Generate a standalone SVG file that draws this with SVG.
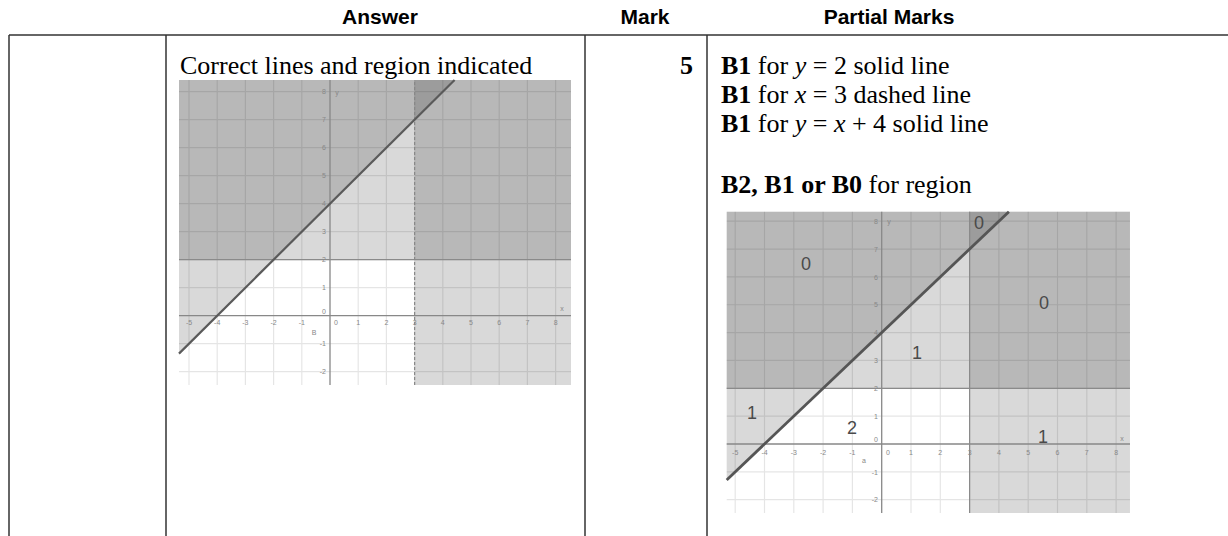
<svg xmlns="http://www.w3.org/2000/svg" width="1228" height="536" viewBox="0 0 1228 536">
<style>
.hdr{font-family:"Liberation Sans",Arial,sans-serif;font-weight:bold;font-size:21px;fill:#000;text-anchor:middle}
.tx{font-family:"Liberation Serif","Times New Roman",serif;font-size:26px;fill:#000}
.b{font-weight:bold}
.i{font-style:italic}
.rule{stroke:#333;stroke-width:1.5;fill:none}
.grid{stroke:#000;stroke-opacity:0.1;fill:none;vector-effect:non-scaling-stroke;stroke-width:1.2}
.shade{fill:#000;fill-opacity:0.15;stroke:none}
.axis{stroke:#888;stroke-width:1.3;fill:none;vector-effect:non-scaling-stroke}
.bnd{stroke:#8a8a8a;stroke-width:1.2;fill:none;vector-effect:non-scaling-stroke}
.dash{stroke:#888;stroke-width:1.2;stroke-dasharray:3 2;fill:none;vector-effect:non-scaling-stroke}
.ln{stroke:#5a5a5a;stroke-width:2.2;fill:none;vector-effect:non-scaling-stroke}
.ln2{stroke:#555;stroke-width:2.8;fill:none;vector-effect:non-scaling-stroke}
.tk{font-family:"Liberation Sans",Arial,sans-serif;font-size:7px;fill:#888;text-anchor:middle}
.tky{font-family:"Liberation Sans",Arial,sans-serif;font-size:7px;fill:#888;text-anchor:end}
.rg{font-family:"Liberation Sans",Arial,sans-serif;font-size:18px;fill:#4a4a4a;text-anchor:middle}
</style>

<g id="table">
<line class="rule" x1="9" y1="35" x2="1228" y2="35"/>
<line class="rule" x1="9" y1="35" x2="9" y2="536"/>
<line class="rule" x1="166" y1="35" x2="166" y2="536"/>
<line class="rule" x1="585" y1="35" x2="585" y2="536"/>
<line class="rule" x1="707" y1="35" x2="707" y2="536"/>
</g>

<g id="header">
<text class="hdr" x="380" y="24">Answer</text>
<text class="hdr" x="645" y="24">Mark</text>
<text class="hdr" x="889" y="24">Partial Marks</text>
</g>

<g id="answer-text">
<text class="tx" x="180" y="74">Correct lines and region indicated</text>
</g>

<g id="mark">
<text class="tx b" x="693" y="74" text-anchor="end">5</text>
</g>

<g id="partial-marks">
<text class="tx" x="721" y="74"><tspan class="b">B1</tspan> for <tspan class="i">y</tspan> = 2 solid line</text>
<text class="tx" x="721" y="103"><tspan class="b">B1</tspan> for <tspan class="i">x</tspan> = 3 dashed line</text>
<text class="tx" x="721" y="132"><tspan class="b">B1</tspan> for <tspan class="i">y</tspan> = <tspan class="i">x</tspan> + 4 solid line</text>
<text class="tx" x="721" y="193"><tspan class="b">B2, B1 or B0</tspan> for region</text>
</g>

<g id="graph-answer">
<g transform="translate(330,315.7) scale(28.2,-28)">
<path class="grid" d="M-5 -2.475V8.418M-4 -2.475V8.418M-3 -2.475V8.418M-2 -2.475V8.418M-1 -2.475V8.418M1 -2.475V8.418M2 -2.475V8.418M3 -2.475V8.418M4 -2.475V8.418M5 -2.475V8.418M6 -2.475V8.418M7 -2.475V8.418M8 -2.475V8.418M-5.355 -2H8.546M-5.355 -1H8.546M-5.355 1H8.546M-5.355 2H8.546M-5.355 3H8.546M-5.355 4H8.546M-5.355 5H8.546M-5.355 6H8.546M-5.355 7H8.546M-5.355 8H8.546"/>
<rect class="shade" x="-5.355" y="2" width="13.901" height="6.418"/>
<rect class="shade" x="3" y="-2.475" width="5.546" height="10.893"/>
<polygon class="shade" points="-5.355,-1.355 4.418,8.418 -5.355,8.418"/>
<path class="axis" d="M-5.355 0H8.546M0 -2.475V8.418"/>
<path class="bnd" d="M-5.355 2H8.546"/>
<path class="dash" d="M3 -2.475V8.418"/>
<path class="ln" d="M-5.355 -1.355L4.418 8.418"/>
</g>
<g id="graph-answer-labels">
<text class="tk" x="189" y="325">-5</text><text class="tk" x="217.2" y="325">-4</text><text class="tk" x="245.4" y="325">-3</text><text class="tk" x="273.6" y="325">-2</text><text class="tk" x="301.8" y="325">-1</text><text class="tk" x="336" y="325">0</text><text class="tk" x="358.2" y="325">1</text><text class="tk" x="386.4" y="325">2</text><text class="tk" x="414.6" y="325">3</text><text class="tk" x="442.8" y="325">4</text><text class="tk" x="471" y="325">5</text><text class="tk" x="499.2" y="325">6</text><text class="tk" x="527.4" y="325">7</text><text class="tk" x="555.6" y="325">8</text>
<text class="tky" x="326" y="94">8</text><text class="tky" x="326" y="122">7</text><text class="tky" x="326" y="150">6</text><text class="tky" x="326" y="178">5</text><text class="tky" x="326" y="206">4</text><text class="tky" x="326" y="234">3</text><text class="tky" x="326" y="262">2</text><text class="tky" x="326" y="290">1</text><text class="tky" x="326" y="314">0</text><text class="tky" x="326" y="346">-1</text><text class="tky" x="326" y="374">-2</text>
<text class="tk" x="562" y="311" font-size="8">x</text>
<text class="tk" x="337" y="95" font-size="8">y</text>
<text class="tk" x="314" y="335" font-size="8">B</text>
</g>
</g>

<g id="graph-partial">
<g transform="translate(881.7,444) scale(29.3,-27.85)">
<path class="grid" d="M-5 -2.478V8.341M-4 -2.478V8.341M-3 -2.478V8.341M-2 -2.478V8.341M-1 -2.478V8.341M1 -2.478V8.341M2 -2.478V8.341M3 -2.478V8.341M4 -2.478V8.341M5 -2.478V8.341M6 -2.478V8.341M7 -2.478V8.341M8 -2.478V8.341M-5.29 -2H8.474M-5.29 -1H8.474M-5.29 1H8.474M-5.29 2H8.474M-5.29 3H8.474M-5.29 4H8.474M-5.29 5H8.474M-5.29 6H8.474M-5.29 7H8.474M-5.29 8H8.474"/>
<rect class="shade" x="-5.29" y="2" width="13.764" height="6.341"/>
<rect class="shade" x="3" y="-2.478" width="5.474" height="10.819"/>
<polygon class="shade" points="-5.29,-1.29 4.341,8.341 -5.29,8.341"/>
<path class="axis" d="M-5.29 0H8.474M0 -2.478V8.341"/>
<path class="bnd" d="M-5.29 2H8.474M3 -2.478V8.341"/>
<path class="ln2" d="M-5.29 -1.29L4.341 8.341"/>
</g>
<g id="graph-partial-labels">
<text class="tk" x="735.2" y="455">-5</text><text class="tk" x="764.5" y="455">-4</text><text class="tk" x="793.8" y="455">-3</text><text class="tk" x="823.1" y="455">-2</text><text class="tk" x="852.4" y="455">-1</text><text class="tk" x="888" y="455">0</text><text class="tk" x="911" y="455">1</text><text class="tk" x="940.3" y="455">2</text><text class="tk" x="969.6" y="455">3</text><text class="tk" x="998.9" y="455">4</text><text class="tk" x="1028.2" y="455">5</text><text class="tk" x="1057.5" y="455">6</text><text class="tk" x="1086.8" y="455">7</text><text class="tk" x="1116.1" y="455">8</text>
<text class="tky" x="878" y="224">8</text><text class="tky" x="878" y="252">7</text><text class="tky" x="878" y="280">6</text><text class="tky" x="878" y="307">5</text><text class="tky" x="878" y="335">4</text><text class="tky" x="878" y="363">3</text><text class="tky" x="878" y="391">2</text><text class="tky" x="878" y="419">1</text><text class="tky" x="878" y="442">0</text><text class="tky" x="878" y="475">-1</text><text class="tky" x="878" y="502">-2</text>
<text class="tk" x="1122" y="441" font-size="8">x</text>
<text class="tk" x="889" y="224" font-size="8">y</text>
<text class="tk" x="864" y="463" font-size="8">a</text>
<text class="rg" x="806" y="270">0</text>
<text class="rg" x="979" y="229">0</text>
<text class="rg" x="1044" y="309">0</text>
<text class="rg" x="917" y="359">1</text>
<text class="rg" x="752" y="419">1</text>
<text class="rg" x="852" y="434">2</text>
<text class="rg" x="1043" y="443">1</text>
</g>
</g>
</svg>
